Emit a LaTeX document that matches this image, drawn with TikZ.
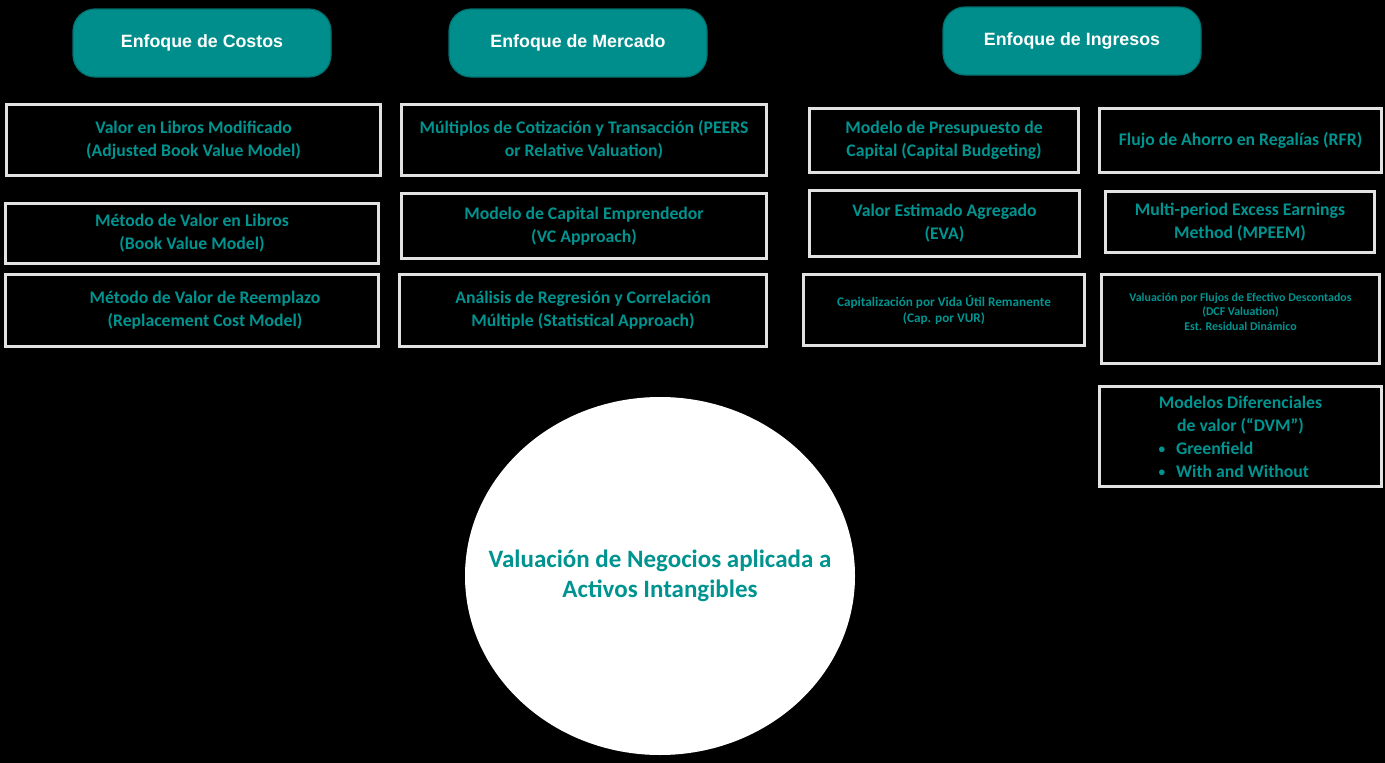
\documentclass[tikz,border=0pt]{standalone}
\usepackage{fontspec}
\setmainfont{Carlito}
\newfontfamily\headfont{Liberation Sans}
\usetikzlibrary{shapes.geometric}
\definecolor{tealfill}{RGB}{0,142,140}
\definecolor{tealline}{RGB}{0,112,110}
\definecolor{tealtext}{RGB}{0,148,144}
\definecolor{boxgray}{RGB}{226,226,226}
\newcommand{\dvmbullet}{\raisebox{0.5pt}{\scalebox{0.75}{\textbullet}}}

\begin{document}
\begin{tikzpicture}[x=1pt,y=-1pt,every node/.style={outer sep=0pt,align=center}]
\tikzstyle{header}=[draw=tealline,fill=tealfill,line width=1.2pt,rounded corners=22pt,minimum width=258pt,minimum height=68pt,text=white,font=\headfont\bfseries\fontsize{17.8}{21}\selectfont]
\tikzstyle{method}=[draw=boxgray,line width=3pt,text=tealtext,font=\bfseries\fontsize{17.7}{23}\selectfont]
\tikzstyle{small}=[font=\bfseries\fontsize{13.2}{16}\selectfont]
\tikzstyle{tiny}=[font=\bfseries\fontsize{11.9}{14.5}\selectfont]

\fill[black] (0,0) rectangle (1385,763);

% approach headers
\node (costos) [header] at (202,43) {Enfoque de Costos};
\node (mercado) [header] at (578,43) {Enfoque de Mercado};
\node (ingresos) [header] at (1072,41) {Enfoque de Ingresos};

% cost approach
\node (libmod) [method,minimum width=374pt,minimum height=71pt] at (193.5,140) {Valor en Libros Modificado\\(Adjusted Book Value Model)};
\node (libros) [method,minimum width=373pt,minimum height=60pt] at (192,233.5) {Método de Valor en Libros\\(Book Value Model)};
\node (reemplazo) [method,minimum width=373pt,minimum height=72pt] at (192,310.5) {\hspace*{26pt}Método de Valor de Reemplazo\\\hspace*{26pt}(Replacement Cost Model)};

% market approach
\node (multiplos) [method,minimum width=365pt,minimum height=71pt] at (584,140) {Múltiplos de Cotización y Transacción (PEERS\\or Relative Valuation)};
\node (capemp) [method,minimum width=365pt,minimum height=65pt] at (584,226) {Modelo de Capital Emprendedor\\(VC Approach)};
\node (regresion) [method,minimum width=367pt,minimum height=72pt] at (583,310.5) {Análisis de Regresión y Correlación\\Múltiple (Statistical Approach)};

% income approach
\node (presupuesto) [method,minimum width=269pt,minimum height=64pt] at (944,140.5) {Modelo de Presupuesto de\\Capital (Capital Budgeting)};
\node (eva) [method,minimum width=270pt,minimum height=66pt] at (944.5,223.5) {Valor Estimado Agregado\\(EVA)};
\node (vur) [method,small,minimum width=281pt,minimum height=71pt] at (944,310) {Capitalización por Vida Útil Remanente\\(Cap. por VUR)};
\node (rfr) [method,minimum width=282pt,minimum height=64pt] at (1240.5,140.5) {Flujo de Ahorro en Regalías (RFR)};
\node (mpeem) [method,minimum width=269pt,minimum height=61pt] at (1240,222) {Multi-period Excess Earnings\\Method (MPEEM)};
\node (dcf) [method,tiny,minimum width=278pt,minimum height=89pt] at (1240.5,319) {Valuación por Flujos de Efectivo Descontados\\(DCF Valuation)\\Est. Residual Dinámico\\\mbox{}};
\node (dvm) [method,minimum width=282pt,minimum height=100pt] at (1240.5,436.5) {Modelos Diferenciales\\de valor (“DVM”)\\\makebox[164pt][l]{\dvmbullet\hspace{11pt}Greenfield}\\\makebox[164pt][l]{\dvmbullet\hspace{11pt}With and Without}};

% centre
\node (valuacion) [ellipse,fill=white,minimum width=390pt,minimum height=358pt,inner sep=0pt] at (660,576) {};
\node (valtexto) [text=tealtext,font=\bfseries\fontsize{25}{30}\selectfont] at (valuacion.center) {Valuación de Negocios aplicada a\\Activos Intangibles};
\end{tikzpicture}
\end{document}
